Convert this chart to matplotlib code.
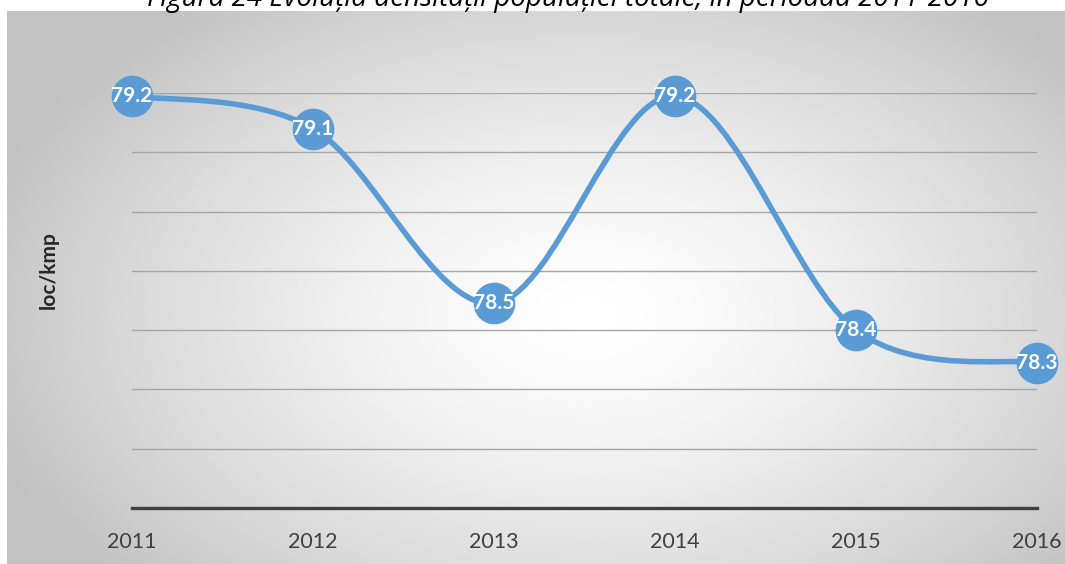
import matplotlib
matplotlib.use("Agg")
import matplotlib.pyplot as plt
import numpy as np
from matplotlib.path import Path
from matplotlib.patches import PathPatch

# date
ani = [2011, 2012, 2013, 2014, 2015, 2016]
densitate = [79.19, 79.08, 78.49, 79.19, 78.40, 78.29]
etichete = ['79.2', '79.1', '78.5', '79.2', '78.4', '78.3']
titlu = 'Figura 24 Evoluția densității populației totale, în perioada 2011-2016'
eticheta_y = 'loc/kmp'

albastru = '#5B9BD5'
plt.rcParams['font.family'] = ['Lato', 'DejaVu Sans']

fig = plt.figure(figsize=(10.65, 5.64), dpi=100)
fig.patch.set_facecolor('white')

# fundal cu gradient radial (zona graficului)
bg = fig.add_axes([7/1065, 0, 1 - 7/1065, (564-11)/564])
bg.set_axis_off()
gx, gy = np.meshgrid(np.linspace(0, 1, 400), np.linspace(0, 1, 220))
r = np.sqrt(((gx - 0.55) / 0.62) ** 2 + ((gy - 0.45) / 0.75) ** 2)
val = np.clip(1 - 0.25 * r ** 1.4, 0.76, 1)
bg.imshow(val, cmap='gray', vmin=0, vmax=1, aspect='auto', extent=[0, 1, 0, 1], origin='lower')
bg.set_xlim(0, 1)
bg.set_ylim(0, 1)

# titlul, taiat sus (ca in original)
fig.text(568/1065, 1 - 6/564, titlu, ha='center', va='baseline', fontsize=20,
         style='italic', color='black', family=['Open Sans', 'DejaVu Sans'])

ax = fig.add_axes([132/1065, (564-508)/564, (1037-132)/1065, (508-93)/564])
ax.patch.set_alpha(0)
x = np.arange(len(ani))
ax.set_xlim(x[0], x[-1])
ax.set_ylim(77.8, 79.2)
ax.set_yticks(np.arange(77.8, 79.21, 0.2))
ax.yaxis.grid(True, color='#A6A6A6', linewidth=1.0)
ax.tick_params(axis='y', left=False, labelleft=False)
ax.tick_params(axis='x', bottom=False, labelsize=15.5, labelcolor='#404040', pad=14)
ax.set_xticks(x)
ax.set_xticklabels([str(a) for a in ani])
for s in ['top', 'left', 'right']:
    ax.spines[s].set_visible(False)
ax.spines['bottom'].set_color('#404040')
ax.spines['bottom'].set_linewidth(2.4)
ax.spines['bottom'].set_zorder(3)

# linie netezita (Bezier, ca in Excel)
pts = np.column_stack([x, densitate])
verts = [pts[0]]
codes = [Path.MOVETO]
for i in range(len(pts) - 1):
    p0 = pts[i - 1] if i > 0 else pts[i]
    p1 = pts[i]
    p2 = pts[i + 1]
    p3 = pts[i + 2] if i + 2 < len(pts) else pts[i + 1]
    c1 = p1 + (p2 - p0) / 6
    c2 = p2 - (p3 - p1) / 6
    verts += [c1, c2, p2]
    codes += [Path.CURVE4] * 3
ax.add_patch(PathPatch(Path(verts, codes), facecolor='none', edgecolor=albastru,
                       linewidth=4, capstyle='round', zorder=4, clip_on=False))

ax.plot(x, densitate, 'o', color=albastru, markersize=30, markeredgewidth=0,
        zorder=5, clip_on=False)
for xi, yi, t in zip(x, densitate, etichete):
    ax.text(xi, yi, t, ha='center', va='center', color='white', fontsize=15,
            fontweight='bold', zorder=6, clip_on=False)

fig.text(49/1065, 1 - 270/564, eticheta_y, rotation=90, ha='center', va='center',
         fontsize=15, fontweight='bold', color='#262626')

fig.savefig('out.png', dpi=100)
